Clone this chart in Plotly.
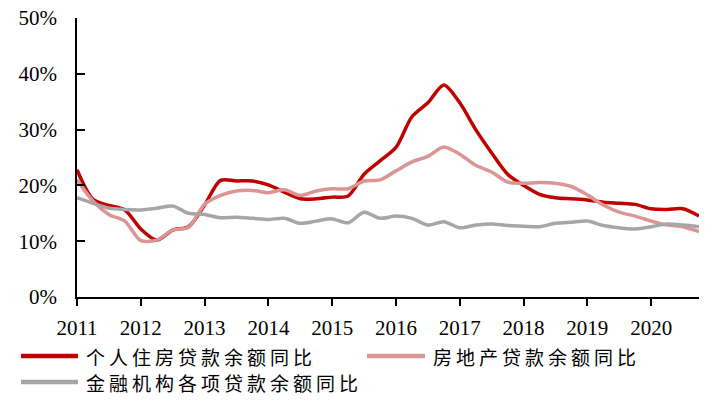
import plotly.graph_objects as go

# Quarterly observations starting 2011Q1 (x in fractional years)
x_years = [2011 + 0.25 * i for i in range(40)]

personal_housing = [22.8, 17.5, 16.4, 15.6, 12.2, 10.2, 12.0, 12.6, 16.5, 20.9,
                    20.8, 20.8, 20.1, 18.8, 17.6, 17.6, 17.9, 18.1, 22.0, 24.4,
                    26.8, 32.3, 34.8, 38.0, 34.8, 30.0, 25.8, 22.0, 20.0, 18.4,
                    17.8, 17.6, 17.4, 17.0, 16.8, 16.6, 15.8, 15.7, 15.8, 14.5]

real_estate = [21.0, 17.2, 14.8, 13.6, 10.1, 10.2, 12.0, 12.5, 16.6, 18.2,
               19.0, 19.1, 18.7, 19.2, 18.2, 19.0, 19.4, 19.4, 20.8, 21.0,
               22.6, 24.2, 25.2, 26.9, 25.6, 23.6, 22.4, 20.6, 20.4, 20.5,
               20.4, 19.8, 18.3, 16.5, 15.2, 14.5, 13.6, 12.9, 12.6, 11.7]

all_loans = [17.8, 16.8, 15.9, 15.7, 15.6, 15.9, 16.3, 15.0, 14.8, 14.2,
             14.3, 14.1, 13.9, 14.1, 13.2, 13.6, 14.0, 13.3, 15.2, 14.1,
             14.5, 14.1, 12.9, 13.5, 12.4, 12.9, 13.1, 12.8, 12.7, 12.6,
             13.2, 13.4, 13.6, 12.8, 12.4, 12.2, 12.6, 13.1, 12.9, 12.6]

year_ticks = [2011, 2012, 2013, 2014, 2015, 2016, 2017, 2018, 2019, 2020]
year_labels = [str(y) for y in year_ticks]
y_ticks = [0, 10, 20, 30, 40, 50]
y_labels = ["0%", "10%", "20%", "30%", "40%", "50%"]

series_names = ["个人住房贷款余额同比", "房地产贷款余额同比", "金融机构各项贷款余额同比"]
series_colors = ["#C00000", "#D99694", "#A6A6A6"]

fig = go.Figure()
for name, vals, col in zip(series_names, [personal_housing, real_estate, all_loans], series_colors):
    fig.add_trace(go.Scatter(
        x=x_years, y=vals, name=name, mode="lines",
        line=dict(color=col, width=3.5, shape="spline", smoothing=0.8),
    ))

# Custom legend (line sample + label) placed below the plot, in paper coordinates
legend_slots = [  # (line x0, line x1, text x, y)
    (-0.0900, 0.0016, 0.0129, -0.2115),
    (0.4662, 0.5595, 0.5707, -0.2115),
    (-0.0900, 0.0016, 0.0129, -0.3047),
]
shapes = []
annotations = []
for (lx0, lx1, tx, ly), name, col in zip(legend_slots, series_names, series_colors):
    shapes.append(dict(type="line", xref="paper", yref="paper",
                       x0=lx0, x1=lx1, y0=ly, y1=ly,
                       line=dict(color=col, width=4.5)))
    annotations.append(dict(xref="paper", yref="paper", x=tx, y=ly,
                            xanchor="left", yanchor="middle", showarrow=False,
                            text='<span style="letter-spacing:4px">' + name + '</span>',
                            borderpad=0,
                            font=dict(family="Noto Sans CJK SC", size=19, color="black")))

fig.update_layout(
    width=722, height=408,
    margin=dict(l=77, r=23, t=18, b=111, autoexpand=False),
    paper_bgcolor="white", plot_bgcolor="white",
    font=dict(family="Liberation Serif", size=20, color="black"),
    showlegend=False,
    shapes=shapes,
    annotations=annotations,
)
fig.update_xaxes(
    range=[2011, 2020.75],
    tickmode="array", tickvals=year_ticks, ticktext=year_labels,
    showline=True, linecolor="black", linewidth=1.5,
    ticks="outside", ticklen=7, tickcolor="black", tickwidth=1.5,
    showgrid=False, zeroline=False,
    ticklabelstandoff=4,
    tickfont=dict(family="Liberation Serif", size=21),
)
fig.update_yaxes(
    range=[0, 50],
    tickmode="array", tickvals=y_ticks, ticktext=y_labels,
    showline=True, linecolor="black", linewidth=1.5,
    ticks="inside", ticklen=8, tickcolor="black", tickwidth=1.5,
    showgrid=False, zeroline=False,
    ticklabelstandoff=14,
    tickfont=dict(family="Liberation Serif", size=21),
)

# Remove the default page margin so the 722x408 figure fills the window exactly
fig.write_html("out.html", config={"displayModeBar": False},
               post_script="document.body.style.margin='0px';")
